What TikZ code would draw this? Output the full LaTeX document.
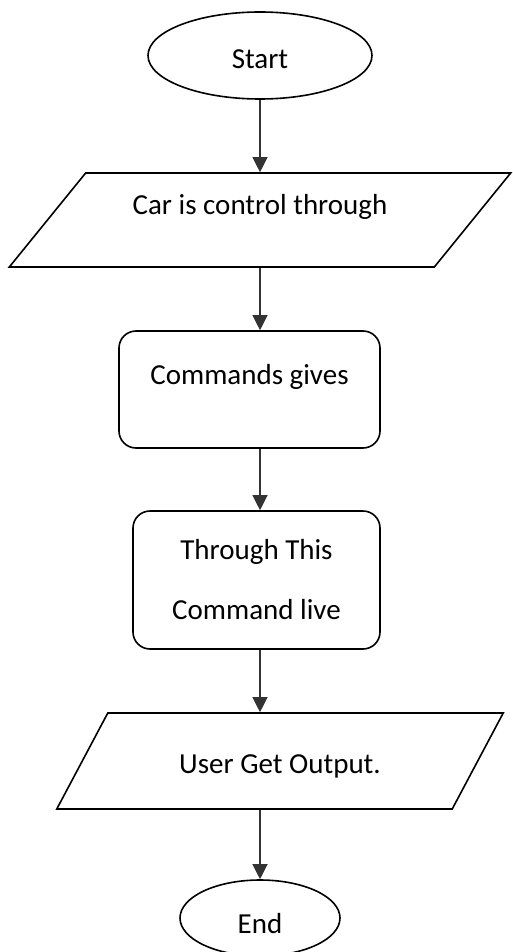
\documentclass[tikz,border=0pt]{standalone}
\usepackage{fontspec}
\setmainfont{Carlito}
\usetikzlibrary{arrows.meta,shapes.geometric}

\begin{document}
\begin{tikzpicture}[
  x=1pt, y=-1pt,
  every node/.style={font=\fontsize{29}{35}\selectfont},
  term/.style={ellipse,draw,line width=1.6pt,inner sep=0pt},
  io/.style={trapezium,trapezium stretches,draw,line width=1.6pt,inner sep=0pt},
  proc/.style={rectangle,draw,rounded corners=17pt,line width=1.6pt,inner sep=0pt,align=center},
  arr/.style={-{Triangle[width=15pt,length=15pt]},line width=1.2pt,draw=black!80}
]
\useasboundingbox (0,0) rectangle (512,952);
\coordinate (spine) at (260,0);

\node[term, minimum width=224pt, minimum height=87pt, text height=27pt, text depth=0pt] (start) at (260,55.5) {Start};
\node[io, minimum width=504pt, minimum height=94pt, trapezium left angle=43, trapezium right angle=137,
  text height=20pt, text depth=32pt] (ctrl) at (260,220) {Car is control through};
\node[proc, minimum width=261pt, minimum height=117pt, text height=20pt, text depth=31pt] (cmd) at (249.5,389.5) {Commands gives};
\node[proc, minimum width=247pt, minimum height=138pt, font=\fontsize{29}{60}\selectfont] (live) at (256.5,580) {Through This\\Command live};
\node[io, minimum width=448pt, minimum height=96pt, trapezium left angle=47, trapezium right angle=133,
  text height=28pt, text depth=4pt] (out) at (280,761) {User Get Output.};
\node[term, minimum width=160pt, minimum height=76pt, text height=30pt, text depth=0pt] (end) at (260,918) {End};

\draw[arr] (spine |- start.south) -- (spine |- ctrl.north);
\draw[arr] (spine |- ctrl.south) -- (spine |- cmd.north);
\draw[arr] (spine |- cmd.south) -- (spine |- live.north);
\draw[arr] (spine |- live.south) -- (spine |- out.north);
\draw[arr] (spine |- out.south) -- (spine |- end.north);
\end{tikzpicture}
\end{document}
